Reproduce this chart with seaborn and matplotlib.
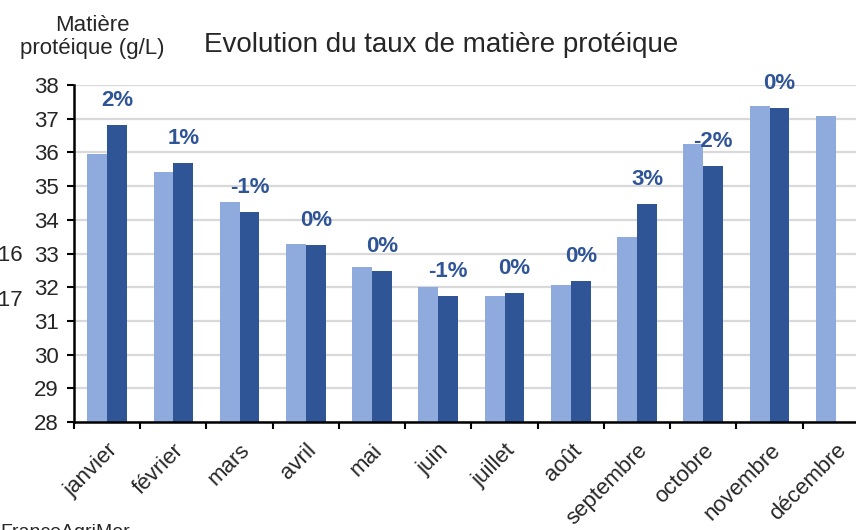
import numpy as np
import pandas as pd
import seaborn as sns
import matplotlib.pyplot as plt
from matplotlib.patches import Patch

# Data
mois = ['janvier', 'février', 'mars', 'avril', 'mai', 'juin', 'juillet',
        'août', 'septembre', 'octobre', 'novembre', 'décembre']
mp_2016 = [35.95, 35.42, 34.53, 33.28, 32.60, 32.01, 31.74, 32.07, 33.49, 36.25, 37.38, 37.08]
mp_2017 = [36.81, 35.69, 34.23, 33.25, 32.48, 31.74, 31.83, 32.18, 34.47, 35.60, 37.32, np.nan]
variation = ['2%', '1%', '-1%', '0%', '0%', '-1%', '0%', '0%', '3%', '-2%', '0%']

light = '#8FAADC'
dark = '#2F5597'

df = pd.DataFrame({
    'mois': mois * 2,
    'valeur': mp_2016 + mp_2017,
    'annee': ['2016'] * 12 + ['2017'] * 12,
})

sns.set_style('white')
plt.rcParams['font.family'] = ['Liberation Sans', 'DejaVu Sans']

fig = plt.figure(figsize=(8.56, 5.30), dpi=100)
ax = fig.add_axes([74 / 856, 1 - 422 / 530, 795 / 856, 337 / 530])

sns.barplot(data=df, x='mois', y='valeur', hue='annee', order=mois,
            palette=[light, dark], width=0.6, errorbar=None,
            saturation=1, linewidth=0, ax=ax, legend=False)

ax.set_ylim(28, 38)
ax.set_xlim(-0.5, 11.5)
ax.set_yticks(range(28, 39))
ax.set_xlabel('')
ax.set_ylabel('')

# grid and spines
ax.yaxis.grid(True, color='#D9D9D9', linewidth=1.6)
ax.set_axisbelow(True)
for s in ['top', 'right']:
    ax.spines[s].set_visible(False)
for s in ['left', 'bottom']:
    ax.spines[s].set_color('black')
    ax.spines[s].set_linewidth(1.8)

ax.tick_params(axis='y', direction='out', length=5, width=1.5,
               color='black', labelsize=16, pad=6, left=True)
ax.set_xticks(np.arange(-0.5, 12, 1), minor=True)
ax.tick_params(axis='x', which='minor', direction='out', length=5,
               width=1.5, color='black', bottom=True)
ax.tick_params(axis='x', which='major', length=0, pad=13)
plt.setp(ax.get_xticklabels(), rotation=45, ha='right',
         rotation_mode='anchor', fontsize=16)

# percent labels above the 2017 bars
ax.bar_label(ax.containers[1], labels=variation, padding=10,
             color=dark, fontsize=16, fontweight='bold')

# texts
fig.text(441 / 856, 1 - 45 / 530, 'Evolution du taux de matière protéique',
         ha='center', va='center', fontsize=20)
fig.text(92 / 856, 1 - 37 / 530, 'Matière\nprotéique (g/L)',
         ha='center', va='center', fontsize=16, linespacing=1.15)
fig.text(0.0, 1 - 524 / 530, 'FranceAgriMer', ha='left', va='top',
         fontsize=14)

# legend sits mostly off the left edge, as in the original
handles = [Patch(color=light, label='2016'), Patch(color=dark, label='2017')]
fig.legend(handles=handles, loc='upper right', frameon=False,
           bbox_to_anchor=(24 / 856, 1 - 245 / 530), borderpad=0,
           borderaxespad=0, labelspacing=1.1, fontsize=16)

fig.savefig('out.png', dpi=100)
